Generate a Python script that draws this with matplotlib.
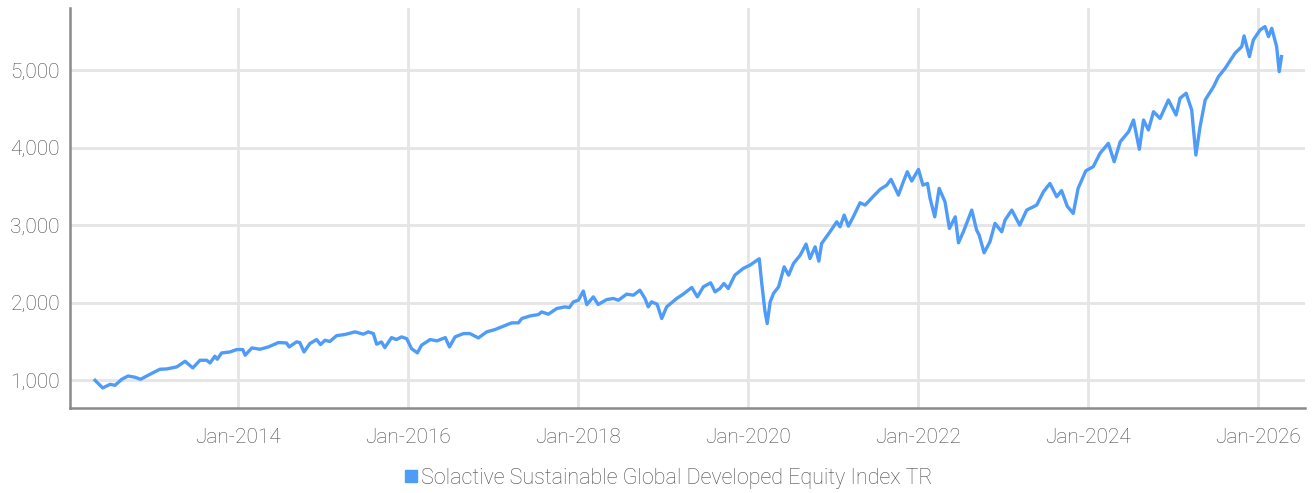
import matplotlib
matplotlib.use("Agg")
import matplotlib.pyplot as plt
import matplotlib.dates as mdates
from matplotlib import font_manager
from matplotlib.lines import Line2D
from matplotlib.ticker import FuncFormatter
import pandas as pd

# index level, roughly one point per 2-4 weeks
dates = [
    "2012-04-26", "2012-05-29", "2012-06-30", "2012-07-21", "2012-08-19", "2012-09-15",
    "2012-10-15", "2012-11-08", "2012-12-18", "2013-01-30", "2013-02-28", "2013-04-12",
    "2013-05-18", "2013-06-20", "2013-07-21", "2013-08-19", "2013-09-02", "2013-09-23",
    "2013-10-03", "2013-10-22", "2013-11-27", "2013-12-26", "2014-01-21", "2014-01-31",
    "2014-03-01", "2014-04-05", "2014-05-11", "2014-06-23", "2014-07-28", "2014-08-08",
    "2014-09-09", "2014-09-23", "2014-10-11", "2014-11-05", "2014-12-04", "2014-12-21",
    "2015-01-09", "2015-01-30", "2015-02-28", "2015-04-05", "2015-05-18", "2015-06-23",
    "2015-07-14", "2015-08-05", "2015-08-19", "2015-09-09", "2015-09-23", "2015-10-22",
    "2015-11-12", "2015-12-04", "2015-12-26", "2016-01-16", "2016-02-10", "2016-02-28",
    "2016-04-05", "2016-05-04", "2016-06-09", "2016-06-27", "2016-07-21", "2016-08-26",
    "2016-09-23", "2016-10-29", "2016-12-04", "2017-01-09", "2017-02-14", "2017-03-21",
    "2017-04-19", "2017-05-04", "2017-06-09", "2017-07-14", "2017-07-28", "2017-08-26",
    "2017-10-01", "2017-11-05", "2017-11-24", "2017-12-11", "2018-01-02", "2018-01-23",
    "2018-02-07", "2018-03-07", "2018-03-28", "2018-05-04", "2018-06-01", "2018-06-23",
    "2018-07-28", "2018-08-26", "2018-09-23", "2018-10-15", "2018-10-29", "2018-11-12",
    "2018-12-06", "2018-12-26", "2019-01-16", "2019-02-28", "2019-03-28", "2019-05-04",
    "2019-05-28", "2019-06-23", "2019-07-24", "2019-08-12", "2019-09-02", "2019-09-19",
    "2019-10-08", "2019-11-05", "2019-12-11", "2020-01-09", "2020-01-30", "2020-02-18",
    "2020-02-28", "2020-03-13", "2020-03-23", "2020-04-05", "2020-04-19", "2020-05-11",
    "2020-06-04", "2020-06-23", "2020-07-14", "2020-08-12", "2020-09-06", "2020-09-23",
    "2020-10-15", "2020-10-31", "2020-11-12", "2020-12-18", "2021-01-16", "2021-01-30",
    "2021-02-17", "2021-03-07", "2021-03-28", "2021-04-26", "2021-05-18", "2021-06-23",
    "2021-07-21", "2021-08-19", "2021-09-06", "2021-10-08", "2021-10-29", "2021-11-15",
    "2021-12-04", "2022-01-02", "2022-01-21", "2022-02-10", "2022-02-21", "2022-03-13",
    "2022-04-01", "2022-04-26", "2022-05-15", "2022-06-09", "2022-06-23", "2022-07-14",
    "2022-08-19", "2022-09-09", "2022-09-20", "2022-10-11", "2022-11-05", "2022-11-27",
    "2022-12-26", "2023-01-09", "2023-02-07", "2023-03-13", "2023-04-12", "2023-05-25",
    "2023-06-23", "2023-07-21", "2023-08-19", "2023-09-09", "2023-10-03", "2023-10-29",
    "2023-11-19", "2023-12-22", "2024-01-23", "2024-02-21", "2024-03-28", "2024-04-22",
    "2024-05-18", "2024-06-23", "2024-07-14", "2024-08-08", "2024-08-26", "2024-09-16",
    "2024-10-08", "2024-11-05", "2024-12-11", "2025-01-13", "2025-01-30", "2025-02-25",
    "2025-03-21", "2025-04-08", "2025-04-26", "2025-05-18", "2025-06-23", "2025-07-14",
    "2025-08-12", "2025-08-26", "2025-09-23", "2025-10-22", "2025-11-01", "2025-11-24",
    "2025-12-11", "2026-01-09", "2026-01-30", "2026-02-14", "2026-02-28", "2026-03-21",
    "2026-04-01", "2026-04-11",
]
values = [
    1000, 901, 948, 935, 1013, 1055, 1039, 1013, 1077, 1142, 1146, 1172,
    1245, 1159, 1258, 1258, 1223, 1310, 1271, 1352, 1365, 1396, 1396, 1323,
    1417, 1400, 1430, 1486, 1481, 1430, 1495, 1486, 1365, 1473, 1525, 1460,
    1516, 1500, 1575, 1590, 1624, 1594, 1624, 1602, 1465, 1494, 1421, 1550,
    1525, 1559, 1537, 1408, 1353, 1452, 1525, 1508, 1550, 1430, 1559, 1602,
    1602, 1546, 1624, 1654, 1697, 1740, 1740, 1796, 1830, 1847, 1881, 1852,
    1925, 1946, 1938, 2010, 2032, 2150, 1975, 2075, 1977, 2041, 2054, 2032,
    2110, 2097, 2161, 2054, 1946, 2011, 1981, 1796, 1946, 2054, 2110, 2196,
    2075, 2205, 2256, 2140, 2183, 2247, 2183, 2355, 2441, 2484, 2527, 2566,
    2269, 1903, 1731, 2011, 2118, 2204, 2462, 2355, 2505, 2613, 2755, 2570,
    2720, 2535, 2763, 2914, 3043, 2978, 3129, 2987, 3107, 3288, 3258, 3374,
    3460, 3516, 3590, 3387, 3559, 3688, 3568, 3718, 3516, 3537, 3344, 3107,
    3473, 3301, 2957, 3107, 2772, 2914, 3194, 2935, 2871, 2643, 2785, 3022,
    2914, 3065, 3194, 3000, 3194, 3258, 3430, 3537, 3366, 3445, 3245, 3151,
    3473, 3700, 3753, 3925, 4054, 3817, 4075, 4204, 4355, 3977, 4355, 4226,
    4462, 4375, 4613, 4419, 4635, 4700, 4484, 3903, 4269, 4613, 4785, 4914,
    5022, 5086, 5215, 5301, 5439, 5172, 5387, 5516, 5559, 5430, 5537, 5301,
    4978, 5172,
]
series_name = "Solactive Sustainable Global Developed Equity Index TR"
tick_years = [2014, 2016, 2018, 2020, 2022, 2024, 2026]
y_ticks = [1000, 2000, 3000, 4000, 5000]

installed = {f.name for f in font_manager.fontManager.ttflist}
family = "Liberation Sans Narrow" if "Liberation Sans Narrow" in installed else "Roboto"
plt.rcParams["font.family"] = [family, "DejaVu Sans"]
plt.rcParams["font.weight"] = "light"

line_color = "#4f9cf8"
text_color = "#4a4a4a"
grid_color = "#e5e5e5"
spine_color = "#8a8a8a"

x = pd.to_datetime(dates)

fig = plt.figure(figsize=(13.14, 4.93), dpi=100)
ax = fig.add_axes([0.053, 0.172, 0.940, 0.812])

ax.plot(x, values, color=line_color, linewidth=2.4, solid_joinstyle="round")

ax.set_xlim(pd.Timestamp("2012-01-08"), pd.Timestamp("2026-07-20"))
ax.set_ylim(640, 5800)

ax.set_xticks([pd.Timestamp(f"{y}-01-01") for y in tick_years])
ax.xaxis.set_major_formatter(mdates.DateFormatter("%b-%Y"))
ax.set_yticks(y_ticks)
ax.yaxis.set_major_formatter(FuncFormatter(lambda v, p: f"{int(v):,}"))

ax.grid(True, color=grid_color, linewidth=2.0)
ax.set_axisbelow(True)
ax.tick_params(axis="both", length=0, labelsize=15, labelcolor=text_color)
ax.tick_params(axis="x", pad=14)
ax.tick_params(axis="y", pad=7)

for side in ["top", "right"]:
    ax.spines[side].set_visible(False)
for side in ["left", "bottom"]:
    ax.spines[side].set_color(spine_color)
    ax.spines[side].set_linewidth(1.8)

handle = Line2D([], [], color=line_color, marker="s", linestyle="none", markersize=8)
fig.legend([handle], [series_name], loc="center", bbox_to_anchor=(0.508, 0.03),
           frameon=False, fontsize=15.5, labelcolor=text_color,
           handletextpad=0.1, handlelength=0.8)

fig.savefig("out.png", dpi=100)
